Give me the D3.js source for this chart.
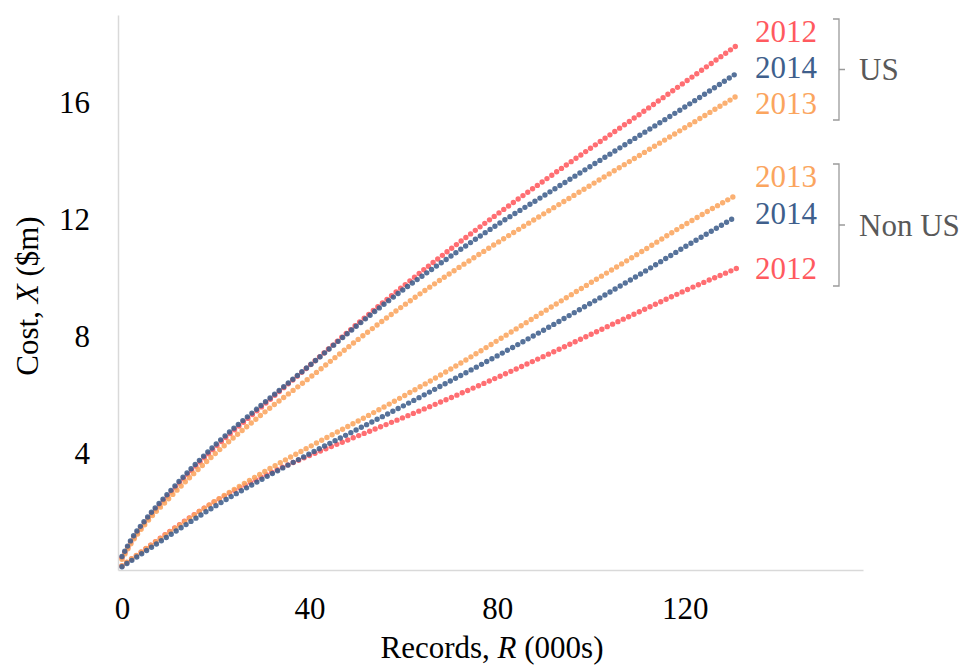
<!DOCTYPE html>
<html>
<head>
<meta charset="utf-8">
<script src="https://cdn.jsdelivr.net/npm/d3@7"></script>
<style>
    body { margin: 0; background: #fff; }
    svg { display: block; }
</style>
</head>
<body>
<svg id="chart" width="962" height="666"></svg>
<script>
const records = [0, 2, 5, 10, 20, 30, 40, 50, 60, 70, 80, 90, 100, 110, 120, 131];

// Cost ($m)
const us2012 = [0.42, 0.98, 1.65, 2.58, 4.22, 5.62, 7.0, 8.4, 9.72, 10.98, 12.18, 13.33, 14.45, 15.56, 16.7, 17.95];
const us2013 = [0.37, 0.92, 1.58, 2.45, 4.0, 5.35, 6.58, 7.85, 9.05, 10.16, 11.2, 12.2, 13.18, 14.16, 15.14, 16.22];
const us2014 = [0.46, 1.05, 1.72, 2.65, 4.3, 5.68, 7.0, 8.35, 9.6, 10.73, 11.82, 12.82, 13.83, 14.84, 15.85, 17.0];
const nonUs2012 = [0.14, 0.37, 0.72, 1.3, 2.36, 3.2, 3.92, 4.57, 5.22, 5.89, 6.59, 7.32, 8.07, 8.82, 9.56, 10.32];
const nonUs2013 = [0.15, 0.38, 0.72, 1.28, 2.37, 3.33, 4.22, 5.07, 5.95, 6.87, 7.85, 8.85, 9.84, 10.82, 11.82, 12.84];
const nonUs2014 = [0.11, 0.32, 0.64, 1.17, 2.2, 3.12, 3.98, 4.8, 5.62, 6.47, 7.33, 8.22, 9.14, 10.08, 11.06, 12.1];

const xTicks = [0, 40, 80, 120];
const yTicks = [4, 8, 12, 16];

const colors = { '2012': '#ff5a5f', '2013': '#fba55e', '2014': '#3f5f8c' };

const series = [
    { group: 'US', year: '2012', values: us2012 },
    { group: 'US', year: '2013', values: us2013 },
    { group: 'US', year: '2014', values: us2014 },
    { group: 'Non US', year: '2012', values: nonUs2012 },
    { group: 'Non US', year: '2013', values: nonUs2013 },
    { group: 'Non US', year: '2014', values: nonUs2014 }
];

const font = 'Liberation Serif, Times New Roman, serif';
const svg = d3.select('#chart');

const x = d3.scaleLinear()
    .domain([-0.85, 158])
    .range([118, 863]);

const y = d3.scaleLinear()
    .domain([0, 19])
    .range([570, 15]);

// Axes
const xAxis = svg.append('g')
    .attr('transform', 'translate(0,570)')
    .call(d3.axisBottom(x).tickValues(xTicks).tickSize(0).tickPadding(27));

const yAxis = svg.append('g')
    .attr('transform', 'translate(118,0)')
    .call(d3.axisLeft(y).tickValues(yTicks).tickSize(0).tickPadding(28));

[xAxis, yAxis].forEach(function(ax) {
    ax.select('.domain')
        .attr('stroke', '#d9d9d9')
        .attr('stroke-width', 1.5);
    ax.selectAll('text')
        .style('font-family', font)
        .style('font-size', '31px')
        .attr('fill', '#000');
});

// Axis titles
const xTitle = svg.append('text')
    .attr('x', 492)
    .attr('y', 658)
    .attr('text-anchor', 'middle')
    .style('font-family', font)
    .style('font-size', '31px');
xTitle.append('tspan').text('Records, ');
xTitle.append('tspan').style('font-style', 'italic').text('R');
xTitle.append('tspan').text(' (000s)');

const yTitle = svg.append('text')
    .attr('transform', 'translate(38,296) rotate(-90)')
    .attr('text-anchor', 'middle')
    .style('font-family', font)
    .style('font-size', '31px');
yTitle.append('tspan').text('Cost, ');
yTitle.append('tspan').style('font-style', 'italic').text('X');
yTitle.append('tspan').text(' ($m)');

// Dotted curves
const lineGen = d3.line()
    .x((d, i) => x(records[i]))
    .y(d => y(d))
    .curve(d3.curveMonotoneX);

series.forEach(function(s) {
    svg.append('path')
        .attr('d', lineGen(s.values))
        .attr('fill', 'none')
        .attr('stroke', colors[s.year])
        .attr('stroke-width', 5.4)
        .attr('stroke-linecap', 'round')
        .attr('stroke-dasharray', '0 5.9')
        .attr('stroke-opacity', 0.88);
});

// Year labels (positions in cost units, placed by hand as in the original)
const labels = [
    { year: '2012', at: 18.42 },
    { year: '2014', at: 17.19 },
    { year: '2013', at: 15.96 },
    { year: '2013', at: 13.48 },
    { year: '2014', at: 12.22 },
    { year: '2012', at: 10.34 }
];

svg.selectAll('.year-label')
    .data(labels)
    .enter()
    .append('text')
    .attr('class', 'year-label')
    .attr('x', 755)
    .attr('y', d => y(d.at))
    .attr('dy', '0.34em')
    .style('font-family', font)
    .style('font-size', '31px')
    .attr('fill', d => colors[d.year])
    .text(d => d.year);

// Group brackets
const groups = [
    { name: 'US', top: 19, bottom: 120 },
    { name: 'Non US', top: 164, bottom: 286 }
];

groups.forEach(function(g) {
    const mid = (g.top + g.bottom) / 2;
    svg.append('path')
        .attr('d', 'M833,' + g.top + 'H839V' + g.bottom + 'H833M839,' + mid + 'H845')
        .attr('fill', 'none')
        .attr('stroke', '#9a9a9a')
        .attr('stroke-width', 1.3);

    svg.append('text')
        .attr('x', 859)
        .attr('y', mid)
        .attr('dy', '0.34em')
        .style('font-family', font)
        .style('font-size', '31px')
        .attr('fill', '#595959')
        .text(g.name);
});
</script>
</body>
</html>
